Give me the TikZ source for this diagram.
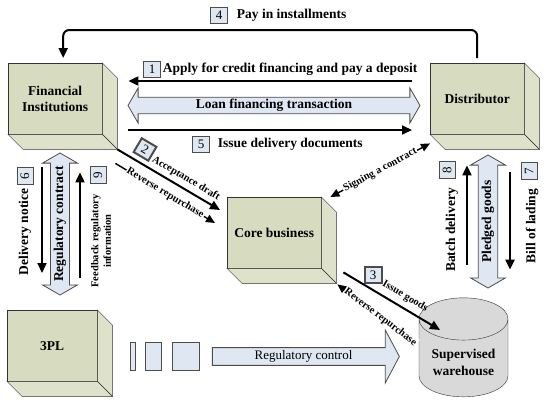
\documentclass[tikz,border=0pt]{standalone}
\usepackage{fontspec}
\setmainfont{Liberation Serif}
\usetikzlibrary{positioning,arrows.meta,shapes.geometric,shapes.arrows}

\definecolor{boxgreen}{RGB}{215,220,192}
\definecolor{sidegreen}{RGB}{222,226,203}
\definecolor{paleblue}{RGB}{223,231,243}
\definecolor{drumgray}{RGB}{217,217,217}

\tikzset{
  cube/.style={draw=black!80, fill=boxgreen, minimum width=94pt, minimum height=71pt,
    anchor=north west, align=center, inner sep=0pt,
    font=\bfseries\fontsize{13.5}{16}\selectfont},
  numbox/.style={draw=black!70, fill=paleblue, minimum width=17pt, minimum height=16pt,
    inner sep=0pt, font=\fontsize{13}{13}\selectfont},
  lbl/.style={font=\bfseries\fontsize{13.5}{15}\selectfont, inner sep=1pt},
  tiny/.style={font=\bfseries\fontsize{10.5}{12}\selectfont, inner sep=1pt},
  conn/.style={line width=2pt, -{Triangle[length=10pt,width=9pt]}},
  thinconn/.style={line width=1.4pt, -{Triangle[length=9pt,width=8pt]}},
  hollow/.style={draw=black!70, fill=paleblue, inner sep=0pt, line width=0.8pt},
}

% side and bottom faces of a box
\newcommand{\cubeside}[1]{%
  \draw[draw=black!80, fill=sidegreen] (#1.north east) -- ++(15,15)
    -- ([shift={(15,15)}]#1.south east) -- (#1.south east) -- cycle;
  \draw[draw=black!80, fill=sidegreen] (#1.south west) -- ++(15,15)
    -- ([shift={(15,15)}]#1.south east) -- (#1.south east) -- cycle;}

\begin{document}
\begin{tikzpicture}[x=1pt,y=-1pt]

\useasboundingbox (0,0) rectangle (550,405);

% the four boxes
\node [cube] (fi) at (8,63) {Financial\\Institutions};
\cubeside{fi}
\node [cube] (dist) at (430,63) {Distributor};
\cubeside{dist}
\node [cube] (core) at (227,197) {Core business};
\cubeside{core}
\node [cube, minimum width=90pt] (tpl) at (7,310) {3PL};
\cubeside{tpl}

% warehouse
\node [cylinder, shape border rotate=90, aspect=0.6, draw=black!80, fill=drumgray,
  minimum width=89pt, minimum height=99pt, align=center,
  font=\bfseries\fontsize{13.5}{17}\selectfont] (wh) at (463.5,362) {Supervised\\warehouse};

% 4: top loop
\draw [conn, rounded corners=6pt, shorten <=5pt]
  (dist.north) -- ++(0,-33) -| ([xshift=8pt,yshift=5pt]fi.north);
\node [numbox] (n4) at (219,15) {4};
\node [lbl, right=8pt of n4] (t4) {Pay in installments};

% 1, loan, 5
\draw [conn, shorten <=18pt, shorten >=26pt] (dist.west |- 0,81) -- (fi.east |- 0,81);
\node [numbox] (n1) at (152,69) {1};
\node [lbl, right=1pt of n1] (t1) {Apply for credit financing and pay a deposit};

\node [hollow, double arrow, double arrow head extend=8.5pt, double arrow tip angle=120,
  minimum height=292pt, minimum width=35pt, lbl] (loan) at (274,105.5)
  {Loan financing transaction};

\draw [conn, shorten <=26pt, shorten >=18pt] (fi.east |- 0,130) -- (dist.west |- 0,130);
\node [numbox] (n5) at (201,144) {5};
\node [lbl, right=7pt of n5] (t5) {Issue delivery documents};

% 2 and reverse repurchase
\draw [conn] ([shift={(15,15)}]fi.south east) -- ([shift={(-7,13)}]core.north west)
  node [numbox, sloped, pos=.2, above=5pt] (n2) {2}
  node [tiny, sloped, pos=.62, above=3pt] (t2) {Acceptance draft};
\draw [thinconn] ([shift={(13,29)}]fi.south east) -- ([shift={(-12,26)}]core.north west)
  node [tiny, sloped, pos=.5, fill=white] (rr1) {Reverse repurchase};

% signing a contract
\draw [thinconn, {Triangle[length=9pt,width=8pt]}-{Triangle[length=9pt,width=8pt]}]
  ([xshift=9pt]core.north east) -- ([yshift=-9pt]dist.south west)
  node [tiny, sloped, pos=.5, fill=white] (sig) {Signing a contract};

% 3 and reverse repurchase
\draw [conn] ([shift={(22,4)}]core.south east) -- ([shift={(-23.5,-32)}]wh.center)
  node [numbox, pos=.25, above right=3pt and -4pt] (n3) {3}
  node [tiny, sloped, pos=.58, above=4pt] (t3) {Issue goods};
\draw [thinconn] ([shift={(-50.5,-20)}]wh.center) -- ([shift={(16,16)}]core.south east)
  node [tiny, sloped, pos=.43, fill=white] (rr2) {Reverse repurchase};

% left column
\draw [conn, shorten <=33pt, shorten >=37pt]
  ([xshift=34pt]fi.south west) -- ([xshift=34pt]fi.south west |- tpl.north);
\node [numbox, rotate=90] (n6) at (25,176) {6};
\node [lbl, rotate=90] (t6) at (25,232) {Delivery notice};

\node [hollow, double arrow, rotate=90, double arrow head extend=6.5pt,
  double arrow tip angle=120, minimum height=142pt, minimum width=35pt, lbl]
  (regc) at (60,224) {Regulatory contract};

\draw [conn, shorten <=32pt, shorten >=38pt]
  ([xshift=72pt]fi.south west |- tpl.north) -- ([xshift=72pt]fi.south west);
\node [numbox, rotate=90] (n9) at (98,175) {9};
\node [tiny, rotate=90, align=center, font=\bfseries\fontsize{10.5}{12.5}\selectfont]
  (t9) at (101,241) {Feedback regulatory\\information};

% right column
\draw [conn, shorten <=33pt, shorten >=31pt]
  ([xshift=37pt]dist.south west |- wh.north) -- ([xshift=37pt]dist.south west);
\node [numbox, rotate=90] (n8) at (447,170) {8};
\node [lbl, rotate=90] (t8) at (452,230) {Batch delivery};

\node [hollow, double arrow, rotate=90, double arrow head extend=6pt,
  double arrow tip angle=120, minimum height=133pt, minimum width=35pt, lbl]
  (pledge) at (488,221.5) {Pledged goods};

\draw [conn, shorten <=38pt, shorten >=28pt]
  ([xshift=80pt]dist.south west) -- ([xshift=80pt]dist.south west |- wh.north);
\node [numbox, rotate=90] (n7) at (529,171) {7};
\node [lbl, rotate=90] (t7) at (532,226) {Bill of lading};

% regulatory control
\draw [hollow] (130,342) rectangle (135,370);
\draw [hollow] (145,342) rectangle (161,370);
\draw [hollow] (172,342) rectangle (199,370);
\node [hollow, single arrow, single arrow head extend=12.5pt, single arrow tip angle=124,
  minimum height=187pt, minimum width=53pt, font=\fontsize{13}{15}\selectfont]
  (regctl) at (303.5,356.5) {Regulatory control};

\end{tikzpicture}
\end{document}
